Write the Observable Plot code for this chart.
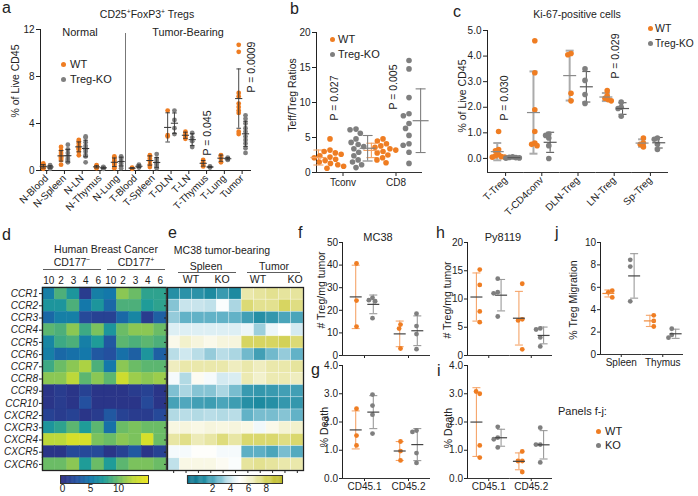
<!DOCTYPE html>
<html><head><meta charset="utf-8">
<script src="https://cdn.jsdelivr.net/npm/d3@7"></script>
<script src="https://cdn.jsdelivr.net/npm/@observablehq/plot@0.6"></script>
<style>
html,body{margin:0;padding:0;background:#fff;overflow:hidden;}
#root{position:relative;width:698px;height:496px;font-family:"Liberation Sans",Arial,sans-serif;}
.dmap g[aria-label^="y-axis"] text{font-style:italic;}
.ldot{position:absolute;width:5px;height:5px;border-radius:50%;}
</style></head><body><div id="root"></div><script>
const ORANGE = "#ef7d22", GRAY = "#7f7f7f";

// ---------- Panel a ----------
const aCats = ["N-Blood","N-Spleen","N-LN","N-Thymus","N-Lung","T-Blood","T-Spleen","T-DLN","T-LN","T-Thymus","T-Lung","Tumor"];
const aWT = [
  [0.6,0.5,0.45,0.4,0.35,0.3,0.25,0.2,0.15],
  [2.0,1.7,1.5,1.3,1.2,1.1,1.0,0.9,0.5],
  [2.6,2.5,2.3,2.1,2.0,1.9,1.8,1.6,1.3],
  [0.45,0.35,0.3,0.25,0.2],
  [1.2,1.1,0.9,0.8,0.6,0.5,0.3,0.2],
  [0.25,0.2,0.15],
  [1.3,1.2,1.0,0.8,0.5,0.3],
  [5.1,3.0,2.9],
  [3.3,3.1,2.9,2.7],
  [0.9,0.7,0.5,0.35],
  [1.3,1.2,1.0,0.7],
  [10.7,10.1,6.6,6.3,5.7,5.4,5.1,4.9,3.3,3.1]
];
const aKO = [
  [0.45,0.4,0.35,0.3,0.25,0.2,0.15],
  [2.2,1.8,1.5,1.2,1.0,0.9,0.8,0.7],
  [2.9,2.8,2.4,2.1,1.9,1.8,1.6,1.3,1.2,0.7],
  [0.3,0.25,0.2,0.15],
  [1.2,1.1,1.0,0.8,0.6,0.4,0.2],
  [0.5,0.4,0.3,0.25],
  [1.4,1.0,0.8,0.6,0.5,0.3,0.2],
  [5.1,4.3,3.6,3.1],
  [3.2,2.8,2.5,2.0],
  [0.35,0.3,0.25],
  [1.1,1.0,0.9],
  [4.7,4.4,4.0,3.6,3.3,2.9,2.6,2.3,1.9,1.5]
];
const aTicks = [0,4,8,12];

// ---------- Panel b ----------
const bCats = ["Tconv","CD8"];
const bWT = [
  [4.8,3.2,3.0,2.8,2.6,2.4,2.2,2.1,1.9,1.7,1.5,1.3,1.1,0.9,0.6],
  [4.8,4.5,4.1,3.8,3.6,3.4,3.2,3.0,2.8,2.5,2.1,1.8,1.4]
];
const bKO = [
  [6.2,6.1,5.6,4.8,4.3,4.0,3.7,3.4,2.9,2.4,1.8,1.5,1.1,0.7],
  [16.0,14.8,10.7,8.4,8.1,7.0,6.3,5.3,4.1,3.9,2.9,1.3]
];
const bTicks = [0,5,10,15,20];

// ---------- Panel c ----------
const cCats = ["T-Treg","T-CD4conv","DLN-Treg","LN-Treg","Sp-Treg"];
const cWT = [
  [1.05,0.35,0.3,0.15,0.1,0.07,0.05,0.05],
  [4.6,3.35,1.9,1.05,0.6,0.55,0.5],
  [4.1,4.05,2.55,2.25],
  [2.65,2.45,2.35,2.3,2.25],
  [0.8,0.6,0.55,0.45]
];
const cKO = [
  [0.06,0.04,0.03,0.02,0.01],
  [0.95,0.9,0.8,0.5,0.0],
  [3.5,3.05,2.5,2.15],
  [2.2,2.0,1.95,1.65],
  [0.8,0.75,0.55,0.35]
];
const cTicks = [0,1,2,3,4,5];

// ---------- Panels f-i ----------
const fiCats = ["CD45.1","CD45.2"];
const fWT = [[40.7,24.3,12.8],[13.7,11.9,3.1]];
const fKO = [[25.5,24.5,24.0,16.5],[18.5,13.0,9.5,2.8]];
const hWT = [[15.2,12.5,7.8,5.9],[12.7,6.4,6.2,1.1]];
const hKO = [[13.6,11.2,11.0,6.9],[4.8,4.6,3.2,1.6]];
const gWT = [[2.47,1.52,1.17],[1.31,0.97,0.64]];
const gKO = [[2.97,2.58,2.26,1.59],[1.7,1.65,0.9,0.55]];
const iWT = [[3.0,3.08,1.17,0.74],[0.96,0.62,0.62,0.23]];
const iKO = [[1.83,1.45,1.39,1.1],[1.8,1.2,1.2,0.57]];
const fTicks = [0,10,20,30,40,50], hTicks = [0,5,10,15,20], giTicks = [0,1,2,3,4];

// ---------- Panel j ----------
const jCats = ["Spleen","Thymus"];
const jWT = [[5.7,5.55,5.1],[3.5,3.0,2.5]];
const jKO = [[8.45,7.85,4.75],[2.3,1.75,1.5]];
const jTicks = [0,2,4,6,8,10];

// ---------- Heatmaps ----------
const genes = ["CCR1","CCR2","CCR3","CCR4","CCR5","CCR6","CCR7","CCR8","CCR9","CCR10","CXCR2","CXCR3","CXCR4","CXCR5","CXCR6"];
const dColIds = ["n10","n2","n3","n4","n6","p10","p2","p3","p4","p6"];
const dValues = [
  [5.5,9,7,1,5.5,5,11,10,8,8],
  [7,7,9,5,7,4,9,9,7.5,8],
  [4,5.5,5.5,2,1.5,1.5,4,6,1,3.5],
  [9.5,9,11,8.5,10.5,7,10,11,11,10],
  [6,8.5,9,5.5,7.5,3,9.5,9,9.5,9],
  [5.5,4,4.5,5,3,2.5,4.5,3.5,7,3.5],
  [8.5,10,11,12,9,5,11,10,9.5,9.5],
  [11,11,12.5,9.5,11,9.5,13.5,11.5,11,11.5],
  [0.5,1,0.5,1.5,0.5,0.5,0.5,1,1.5,0.5],
  [0.5,1,0.5,2.5,0.5,0.5,0.5,0.5,2,0.5],
  [1.5,1,1.5,0.5,1,3,1.5,1,1,2],
  [7,8,9.5,7.5,9.5,4.5,10,10.5,10,10],
  [12.5,12.5,14,14,10.5,10,11,10.5,14,10],
  [0.5,0.5,2,2,2,0.5,1.5,3,0.5,1.5],
  [10,10,11,7.5,10,7.5,9.5,10.5,10.5,10]
];
const eColIds = ["sW1","sW2","sW3","sK1","sK2","sK3","tW1","tW2","tW3","tK1","tK2"];
const eValues = [
  [1.2,1.3,1.3,1.0,1.6,1.0,6.8,7.0,7.2,7.0,7.0],
  [3.0,3.9,3.9,3.8,4.9,3.5,7.6,7.2,7.2,7.9,7.4],
  [3.2,2.5,2.5,2.5,2.5,2.5,1.8,1.2,1.5,2.0,2.0],
  [4.3,4.3,4.3,4.3,4.3,4.3,4.6,3.3,4.6,5.0,4.1],
  [5.5,6.2,5.8,5.5,5.8,5.8,7.9,7.9,7.9,8.1,7.6],
  [3.7,4.0,3.7,3.2,3.7,3.5,2.7,1.8,2.7,3.2,2.5],
  [6.5,6.8,6.8,6.8,6.8,6.5,6.8,6.5,6.8,6.8,7.0],
  [4.8,3.6,5.3,4.8,4.1,4.2,6.7,6.2,6.7,6.7,6.5],
  [2.9,3.5,3.0,3.0,3.5,2.8,1.6,1.5,1.6,1.8,1.8],
  [1.9,2.1,1.8,1.7,2.0,1.7,1.2,1.0,1.2,1.5,1.5],
  [3.6,3.7,3.6,3.7,3.6,3.7,2.5,2.8,2.8,3.0,2.5],
  [5.7,5.8,5.6,5.8,5.7,5.8,5.6,4.7,5.5,6.0,6.2],
  [6.9,7.3,6.6,6.9,7.5,6.9,7.7,7.7,7.7,7.4,7.7],
  [4.8,4.8,5.1,5.1,4.8,4.8,2.4,2.4,2.0,2.8,2.2],
  [3.8,5.6,5.6,5.6,5.3,4.9,7.0,7.2,7.0,6.8,6.8]
];
const dStops = [0,2.5,5,7.5,10,12.5,15.4];
const dColors = ["#2c2e82","#24509f","#1478aa","#1f9c98","#6bbc66","#bcd83a","#eee51b"];
const eStops = [-0.8,1,2.5,4,5,6.5,8,9.8];
const eColors = ["#0a6e8a","#1d8aa0","#62b2c7","#cfe8ef","#ffffff","#efedbf","#d5d35a","#b8b41f"];
const dBarTicks = [0,5,10], eBarTicks = [2,4,6,8];

// ---------- helpers ----------
const W = 698, H = 496;
const FONT = "'Liberation Sans', Arial, sans-serif";
const STYLE = {background:"transparent", fontFamily:FONT, fontSize:"10px", color:"#222", overflow:"visible"};
const root = document.getElementById("root");
function add(p){ p.style.position="absolute"; p.style.left="0px"; p.style.top="0px"; root.appendChild(p); }
function M(l,t,r,b){ return {marginLeft:l, marginTop:t, marginRight:W-r, marginBottom:H-b}; }
const HLINE = {draw(ctx,size){ const r=Math.sqrt(size/Math.PI); ctx.moveTo(-r,0); ctx.lineTo(r,0); }};
function long(cats,wt,ko){ return cats.flatMap((c,i)=>[...wt[i].map(v=>({c,g:"WT",v})), ...ko[i].map(v=>({c,g:"KO",v}))]); }
function summarize(rows){
  return d3.flatRollup(rows, v=>{ const m=d3.mean(v,d=>d.v), s=d3.deviation(v,d=>d.v)||0; return {mean:m, lo:m-s, hi:m+s}; }, d=>d.c, d=>d.g)
    .map(([c,g,s])=>({c,g,...s}));
}

// ---------- Panel a (plain band scale) ----------
{
  const data = long(aCats,aWT,aKO), st = summarize(data);
  const marks = [];
  for (const g of ["WT","KO"]) {
    const dx = g==="WT" ? -3.4 : 3.4, col = g==="WT" ? ORANGE : GRAY;
    const dd = data.filter(d=>d.g===g), ss = st.filter(d=>d.g===g);
    marks.push(Plot.dot(dd,{x:"c",y:"v",r:2.4,fill:col,dx}));
    marks.push(Plot.ruleX(ss,{x:"c",y1:"lo",y2:"hi",stroke:"#333",strokeWidth:0.9,dx}));
    marks.push(Plot.dot(ss,{x:"c",y:"hi",symbol:HLINE,r:2.3,stroke:"#333",strokeWidth:0.9,fill:"none",dx}));
    marks.push(Plot.dot(ss,{x:"c",y:"lo",symbol:HLINE,r:2.3,stroke:"#333",strokeWidth:0.9,fill:"none",dx}));
    marks.push(Plot.dot(ss,{x:"c",y:"mean",symbol:HLINE,r:3.6,stroke:"#333",strokeWidth:1,fill:"none",dx}));
  }
  add(Plot.plot({width:W,height:H,...M(40,29,250,170),style:STYLE,
    x:{type:"band",domain:aCats,range:[37.3,250.5],padding:0,round:false,tickRotate:-45,tickSize:4,tickPadding:2,label:null,line:true},
    y:{domain:[0,12],ticks:aTicks,tickSize:4,tickPadding:2,label:null,line:true},
    marks}));
}

// ---------- faceted dot panels ----------
function facetPanel(o){
  const data = long(o.cats,o.wt,o.ko), st = summarize(data);
  const bw = (o.r-o.l)/o.cats.length, pad = Math.max(0, bw/(2*o.off)-2);
  const marks = [Plot.ruleY([o.y[0]],{stroke:"#333"})];
  for (const g of ["WT","KO"]) {
    const s = o.sty[g], dd = data.filter(d=>d.g===g), ss = st.filter(d=>d.g===g);
    const cm = {fx:"c", x:"g", fill:"none"};
    marks.push(Plot.ruleX(ss,{fx:"c",x:"g",y1:"lo",y2:"hi",stroke:s.bar,strokeWidth:s.bw}));
    marks.push(Plot.dot(ss,{...cm,y:"hi",symbol:HLINE,r:o.capR,stroke:s.bar,strokeWidth:s.bw}));
    marks.push(Plot.dot(ss,{...cm,y:"lo",symbol:HLINE,r:o.capR,stroke:s.bar,strokeWidth:s.bw}));
    marks.push(Plot.dot(dd, Plot.dodgeX({anchor:"middle",padding:o.dpad ?? 0.3},{fx:"c",y:"v",r:o.dotR,fill:g==="WT"?ORANGE:GRAY,dx:g==="WT"?-o.off:o.off})));
    marks.push(Plot.dot(ss,{...cm,y:"mean",symbol:HLINE,r:o.meanR,stroke:s.mean,strokeWidth:1.2}));
  }
  const ts = o.tick ?? 4, tp = o.tpad ?? 2;
  const fx = {domain:o.cats,padding:0,round:false,axis:"bottom",label:null,tickSize:ts,tickPadding:tp,tickRotate:o.rot||0};
  if (o.labels===false) fx.tickFormat = () => "";
  add(Plot.plot({width:W,height:H,...M(o.l,o.t,o.r,o.b),style:STYLE,
    fx,
    x:{domain:["WT","KO"],padding:pad,round:false,axis:null},
    y:{domain:o.y,ticks:o.ticks,tickSize:ts,tickPadding:tp,label:null,line:true},
    marks}));
}
const styFJ = {WT:{bar:"#f5a56a",bw:1.1,mean:"#444"}, KO:{bar:"#9a9a9a",bw:1.1,mean:"#444"}};
facetPanel({cats:bCats,wt:bWT,ko:bKO,l:316,r:422,t:32,b:172,y:[0,20],ticks:bTicks,off:13,dotR:2.8,capR:5,meanR:8,dpad:0.4,
  sty:{WT:{bar:"#f3a060",bw:1.1,mean:"#f3a060"},KO:{bar:"#808080",bw:1.1,mean:"#808080"}}});
facetPanel({cats:cCats,wt:cWT,ko:cKO,l:487,r:668,t:30,b:172,y:[-0.55,5],ticks:cTicks,off:7,dotR:2.8,capR:4,meanR:6.5,rot:-45,dpad:-2.2,
  sty:{WT:{bar:"#ababab",bw:2,mean:"#8a8a8a"},KO:{bar:"#5a5a5a",bw:1.1,mean:"#5a5a5a"}}});
const fjCommon = {dotR:2.4,capR:4,meanR:6,tick:3,tpad:1.5,dpad:-0.5};
facetPanel({...fjCommon,cats:fiCats,wt:fWT,ko:fKO,l:342,r:430,t:242,b:355,y:[0,50],ticks:fTicks,off:8,labels:false,sty:styFJ});
facetPanel({...fjCommon,cats:fiCats,wt:hWT,ko:hKO,l:467,r:552,t:242,b:355,y:[0,20],ticks:hTicks,off:9,labels:false,sty:styFJ});
facetPanel({...fjCommon,cats:fiCats,wt:gWT,ko:gKO,l:342,r:430,t:365,b:478,y:[0,4],ticks:giTicks,off:8,sty:styFJ});
facetPanel({...fjCommon,cats:fiCats,wt:iWT,ko:iKO,l:467,r:552,t:365,b:478,y:[0,4],ticks:giTicks,off:9,sty:styFJ});
facetPanel({...fjCommon,cats:jCats,wt:jWT,ko:jKO,l:600,r:683,t:242,b:354,y:[0,10],ticks:jTicks,off:9,
  sty:{WT:{bar:"#f5a56a",bw:1.1,mean:"#f08a3a"},KO:{bar:"#9a9a9a",bw:1.1,mean:"#444"}}});

// ---------- Heatmap d ----------
{
  const data = genes.flatMap((gene,i)=>dColIds.map((col,j)=>({gene,col,v:dValues[i][j]})));
  add(Plot.plot({width:W,height:H,...M(42,287,166,470),style:STYLE,className:"dmap",
    x:{domain:dColIds,padding:0,round:false,axis:"top",tickSize:0,tickPadding:4,tickFormat:d=>d.slice(1),label:null},
    y:{domain:genes,padding:0,round:false,tickSize:3,tickPadding:1.5,label:null},
    color:{type:"linear",domain:dStops,range:dColors,interpolate:"rgb"},
    marks:[Plot.cell(data,{x:"col",y:"gene",fill:"v",stroke:"v",strokeWidth:0.4}), Plot.frame({stroke:"#222",strokeWidth:1.3})]}));
  add(Plot.plot({width:W,height:H,...M(60,475,148,483),style:STYLE,
    x:{domain:[-0.36,15.36],ticks:dBarTicks,tickSize:0,tickPadding:1.5,label:null},
    color:{type:"linear",domain:dStops,range:dColors,interpolate:"rgb"},
    marks:[Plot.ruleX(d3.range(-0.36,15.4,0.1),{x:d=>d,stroke:d=>d,strokeWidth:1}), Plot.frame({stroke:"#333"})]}));
}
// ---------- Heatmap e ----------
{
  const data = genes.flatMap((gene,i)=>eColIds.map((col,j)=>({gene,col,v:eValues[i][j]})));
  add(Plot.plot({width:W,height:H,...M(167,287,303,470),style:STYLE,
    x:{domain:eColIds,padding:0,round:false,tickSize:3,tickFormat:()=>"",label:null},
    y:{domain:genes,padding:0,round:false,tickSize:3,tickFormat:()=>"",label:null},
    color:{type:"linear",domain:eStops,range:eColors,interpolate:"rgb"},
    marks:[Plot.cell(data,{x:"col",y:"gene",fill:"v",stroke:"#fff",strokeOpacity:0.45,strokeWidth:0.6}), Plot.frame({stroke:"#222",strokeWidth:1.3})]}));
  add(Plot.plot({width:W,height:H,...M(187,475,282,483),style:STYLE,
    x:{domain:[-0.8,9.8],ticks:eBarTicks,tickSize:0,tickPadding:1.5,label:null},
    color:{type:"linear",domain:eStops,range:eColors,interpolate:"rgb"},
    marks:[Plot.ruleX(d3.range(-0.8,9.85,0.1),{x:d=>d,stroke:d=>d,strokeWidth:1.2}), Plot.frame({stroke:"#333"})]}));
}

// ---------- text overlay ----------
const ov = d3.select(root).append("svg").attr("width",W).attr("height",H)
  .style("position","absolute").style("left","0px").style("top","0px").style("overflow","visible")
  .attr("font-family",FONT).attr("fill","#222");
function T(x,y,s,o={}){
  const t = ov.append("text").attr("x",x).attr("y",y).attr("font-size",o.size||11).attr("text-anchor",o.anchor||"start");
  if (o.rot) t.attr("transform",`rotate(${o.rot},${x},${y})`).attr("dy","0.35em");
  if (Array.isArray(s)) {
    for (const [p,sup] of s) {
      const sp = t.append("tspan").text(p);
      if (sup) sp.attr("font-size",(o.size||11)*0.65).attr("dy",-4); else if (sp.node().previousSibling) sp.attr("dy",4);
    }
  } else t.text(s);
  return t;
}
function L(x1,y1,x2,y2,c="#333",w=1){ ov.append("line").attr("x1",x1).attr("y1",y1).attr("x2",x2).attr("y2",y2).attr("stroke",c).attr("stroke-width",w); }
function dotL(x,y,c){ const s=document.createElement("span"); s.className="ldot"; s.style.left=(x-2.5)+"px"; s.style.top=(y-2.5)+"px"; s.style.background=c; root.appendChild(s); }

// letters
for (const [l,x,y] of [["a",2,13],["b",290,14],["c",453,17],["d",2,240],["e",168,238],["f",298,238],["h",436,238],["j",555,238],["g",311,375],["i",437,376]])
  T(x,y,l,{size:16});
// a
T(147,18,[["CD25"],["+",1],["FoxP3"],["+",1],[" Tregs"]],{anchor:"middle",size:10.5});
T(80,36,"Normal",{anchor:"middle",size:11});
T(188,36,"Tumor-Bearing",{anchor:"middle",size:10.8});
L(125.5,33,125.5,170,"#777",1);
dotL(63,64,ORANGE); dotL(63,79,GRAY);
T(70,68,"WT",{size:11}); T(70,83,"Treg-KO",{size:11});
T(207,133,"P = 0.045",{anchor:"middle",rot:-90,size:10.5});
T(251,67,"P = 0.0009",{anchor:"middle",rot:-90,size:10.5});
T(15,81,"% of Live CD45",{anchor:"middle",rot:-90,size:10.5});
// b
T(292,95,"Teff/Treg Ratios",{anchor:"middle",rot:-90,size:10.5});
T(334,98,"P = 0.027",{anchor:"middle",rot:-90,size:10.5});
T(393,87,"P = 0.005",{anchor:"middle",rot:-90,size:10.5});
dotL(332,39,ORANGE); dotL(332,54,GRAY);
T(338,43,"WT",{size:11}); T(338,58,"Treg-KO",{size:11});
// c
T(577,18,"Ki-67-positive cells",{anchor:"middle",size:10.5});
T(462,96,"% of Live CD45",{anchor:"middle",rot:-90,size:10.5});
T(504,98,"P = 0.030",{anchor:"middle",rot:-90,size:10.5});
T(615,56,"P = 0.029",{anchor:"middle",rot:-90,size:10.5});
dotL(650,28,ORANGE); dotL(650,43,GRAY);
T(655,32,"WT",{size:10.5}); T(655,47,"Treg-KO",{size:10.2});
// d
T(106,253,"Human Breast Cancer",{anchor:"middle",size:10.5});
T(72,266,[["CD177"],["\u2212",1]],{anchor:"middle",size:10.5});
T(136,266,[["CD177"],["+",1]],{anchor:"middle",size:10.5});
L(43,269.5,101,269.5,"#333",0.8); L(107,269.5,165,269.5,"#333",0.8);
// e
T(222,254,"MC38 tumor-bearing",{anchor:"middle",size:10.5});
T(206,270,"Spleen",{anchor:"middle",size:10.5});
T(274,270,"Tumor",{anchor:"middle",size:10.5});
L(178,272.5,236,272.5,"#333",0.8); L(247,272.5,300,272.5,"#333",0.8);
T(191,283,"WT",{anchor:"middle",size:10.5}); T(222,283,"KO",{anchor:"middle",size:10.5});
T(258,283,"WT",{anchor:"middle",size:10.5}); T(295,283,"KO",{anchor:"middle",size:10.5});
// f-j
T(378,241,"MC38",{anchor:"middle",size:11});
T(503,241,"Py8119",{anchor:"middle",size:11});
T(321,290,"# Treg/mg tumor",{anchor:"middle",rot:-90,size:10.5});
T(447,300,"# Treg/mg tumor",{anchor:"middle",rot:-90,size:10.5});
T(324,427,"% Death",{anchor:"middle",rot:-90,size:10.5});
T(448,428,"% Death",{anchor:"middle",rot:-90,size:10.5});
T(573,300,"% Treg Migration",{anchor:"middle",rot:-90,size:10.5});
T(558,415,"Panels f-j:",{size:11});
dotL(598,431,ORANGE); dotL(598,445,GRAY);
T(605,435,"WT",{size:11}); T(605,449,"KO",{size:11});
</script></body></html>
